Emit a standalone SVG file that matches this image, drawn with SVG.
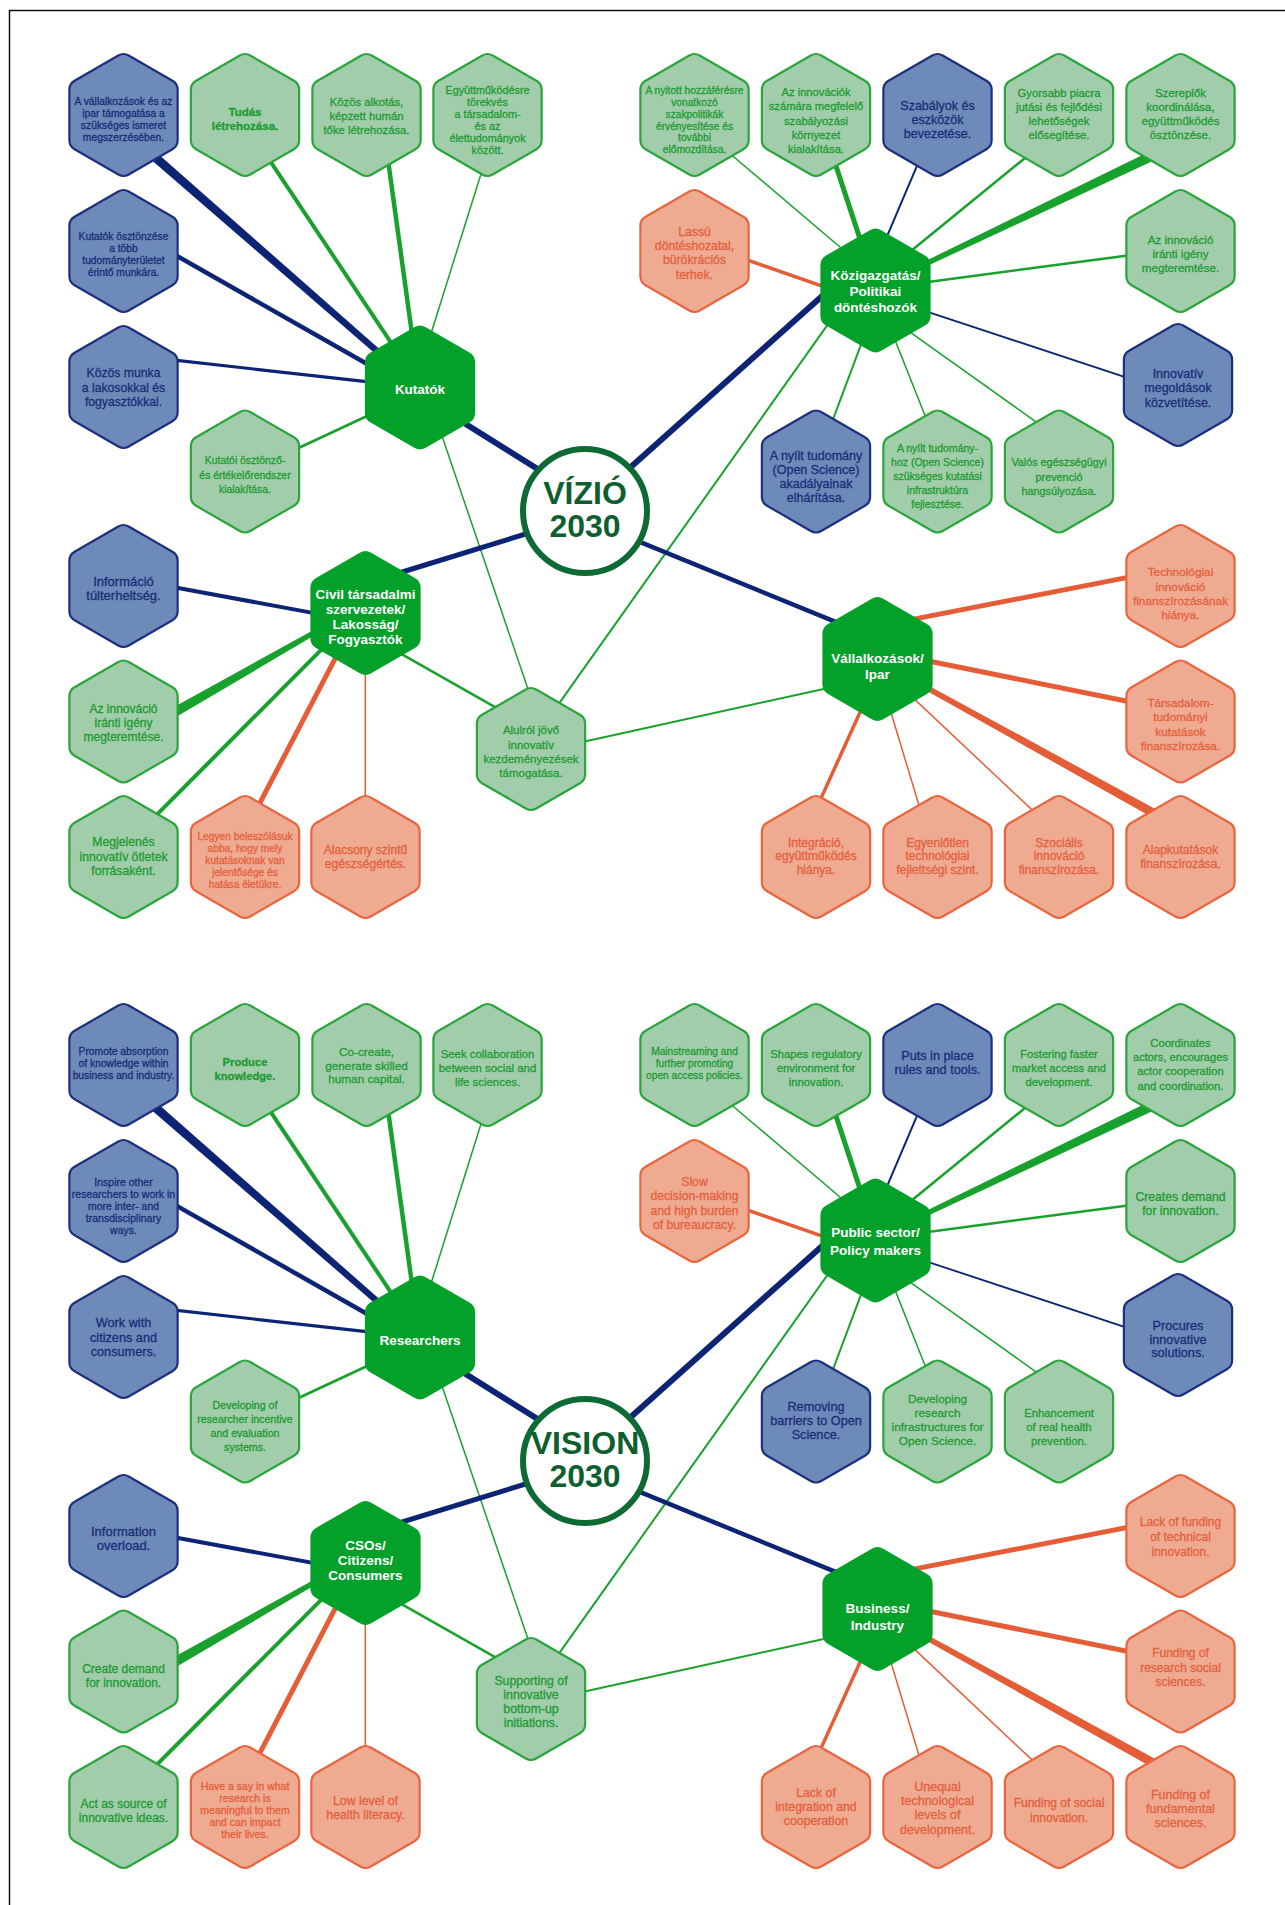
<svg xmlns="http://www.w3.org/2000/svg" xmlns:xlink="http://www.w3.org/1999/xlink" width="1285" height="1905" viewBox="0 0 1285 1905">
<style>
text{font-family:"Liberation Sans",Arial,sans-serif;text-anchor:middle}
.hb{fill:#6E8AB8;stroke:#1D2F7E;stroke-width:2.2}
.hg{fill:#A1CDAA;stroke:#2AA53C;stroke-width:2.2}
.hr{fill:#EFAA92;stroke:#E8653E;stroke-width:2.2}
.hh{fill:#03A12A;stroke:#03A12A;stroke-width:2}
.tb{fill:#1B2D7A;stroke:#1B2D7A;stroke-width:0.3}
.tg{fill:#1E9B34;stroke:#1E9B34;stroke-width:0.3}
.tr{fill:#E5613B;stroke:#E5613B;stroke-width:0.3}
.th{fill:#FFFFFF;font-weight:bold;font-size:13.5px}
.lb{stroke:#0D2475;fill:none}
.lg{stroke:#18A22D;fill:none}
.lr{stroke:#E55D37;fill:none}
.pb{fill:#0D2475}
.pg{fill:#18A22D}
.pr{fill:#E55D37}
.circ{fill:#FFFFFF;stroke:#0E6A34;stroke-width:6}
.ct{fill:#0E5F2F;font-weight:bold;font-size:32px}
</style>
<defs>
<path id="hex" d="M -5.2,-59.5 Q 0,-62.5 5.2,-59.5 L 48.93,-34.25 Q 54.13,-31.25 54.13,-25.25 L 54.13,25.25 Q 54.13,31.25 48.93,34.25 L 5.2,59.5 Q 0,62.5 -5.2,59.5 L -48.93,34.25 Q -54.13,31.25 -54.13,25.25 L -54.13,-25.25 Q -54.13,-31.25 -48.93,-34.25 Z"/>
</defs>
<rect x="0" y="0" width="1285" height="1905" fill="#FFFFFF"/>
<rect id="frame" x="9.5" y="10.5" width="1400" height="2000" fill="none" stroke="#111111" stroke-width="1.5"/>

<g id="connectors">
<g id="connectors-hu">
<polygon class="pb" points="146.5,155.8 382.5,359.9 386.5,355.3 152.5,149.0"/>
<line class="lg" stroke-width="4" x1="267" y1="156.3" x2="395.5" y2="349.3"/>
<line class="lg" stroke-width="4.5" x1="387.6" y1="157" x2="412.4" y2="337"/>
<line class="lg" stroke-width="1.5" x1="483" y1="167.5" x2="429" y2="340"/>
<line class="lb" stroke-width="4.5" x1="169.3" y1="251.6" x2="374.2" y2="368"/>
<line class="lb" stroke-width="3.2" x1="168" y1="359.4" x2="375.5" y2="382.6"/>
<line class="lg" stroke-width="2.8" x1="289.4" y1="452.2" x2="374.6" y2="412.5"/>
<line class="lb" stroke-width="6" x1="456.5" y1="418.3" x2="560" y2="483"/>
<line class="lg" stroke-width="1.5" x1="439.8" y1="429.5" x2="530" y2="695"/>
<line class="lg" stroke-width="1.5" x1="726" y1="150.2" x2="847" y2="253"/>
<line class="lg" stroke-width="5" x1="833.2" y1="157.5" x2="862.7" y2="247.1"/>
<line class="lb" stroke-width="2" x1="920.8" y1="156.8" x2="884.1" y2="243.2"/>
<line class="lg" stroke-width="2.5" x1="1031.5" y1="152.7" x2="907" y2="254.3"/>
<polygon class="pg" points="1154.8,148.9 918.6,264.4 920.8,269.0 1159.2,157.9"/>
<line class="lg" stroke-width="2.5" x1="1137.5" y1="254.2" x2="920.5" y2="283"/>
<line class="lb" stroke-width="1.8" x1="1134.2" y1="380.1" x2="920.9" y2="309.6"/>
<line class="lr" stroke-width="3.5" x1="739.8" y1="257.4" x2="830.9" y2="289.1"/>
<line class="lb" stroke-width="6" x1="614.6" y1="481.4" x2="828.9" y2="290.1"/>
<line class="lg" stroke-width="2" x1="555.2" y1="708.8" x2="832.3" y2="318.2"/>
<line class="lg" stroke-width="2" x1="830.5" y1="426" x2="864" y2="336.6"/>
<line class="lg" stroke-width="1.5" x1="927.7" y1="422.3" x2="892.8" y2="334.4"/>
<line class="lg" stroke-width="1.5" x1="1041.6" y1="425.8" x2="904.4" y2="328.2"/>
<line class="lb" stroke-width="5" x1="392.5" y1="575" x2="555" y2="525"/>
<line class="lb" stroke-width="4" x1="168.6" y1="586.2" x2="320.8" y2="614.4"/>
<polygon class="pg" points="172.2,719.3 320.9,631.6 318.5,627.2 167.2,710.7"/>
<line class="lg" stroke-width="4" x1="151.9" y1="819.6" x2="327.1" y2="643.9"/>
<line class="lr" stroke-width="5" x1="256.4" y1="809.6" x2="339.3" y2="650.7"/>
<line class="lr" stroke-width="1.5" x1="365.3" y1="804" x2="365.3" y2="666"/>
<line class="lg" stroke-width="2.5" x1="396.3" y1="651.1" x2="501.7" y2="710.9"/>
<line class="lg" stroke-width="2" x1="576.7" y1="743.2" x2="832.8" y2="686.9"/>
<line class="lb" stroke-width="4.5" x1="612.2" y1="530.7" x2="842.3" y2="624.6"/>
<line class="lr" stroke-width="5" x1="1134.4" y1="576.1" x2="909.9" y2="619.9"/>
<line class="lr" stroke-width="5" x1="1134.4" y1="702.7" x2="922.2" y2="659.7"/>
<polygon class="pr" points="1159,810.9 924.6,683.4 922,688.2 1154.6,818.7"/>
<line class="lr" stroke-width="1.5" x1="1037.3" y1="814.9" x2="909.1" y2="694.1"/>
<line class="lr" stroke-width="1.5" x1="921.4" y1="813.3" x2="888.8" y2="705.2"/>
<line class="lr" stroke-width="3.5" x1="817.9" y1="805.1" x2="864.1" y2="703.3"/>
</g>
<g id="connectors-en" transform="translate(0,950)">
<polygon class="pb" points="146.5,155.8 382.5,359.9 386.5,355.3 152.5,149.0"/>
<line class="lg" stroke-width="4" x1="267" y1="156.3" x2="395.5" y2="349.3"/>
<line class="lg" stroke-width="4.5" x1="387.6" y1="157" x2="412.4" y2="337"/>
<line class="lg" stroke-width="1.5" x1="483" y1="167.5" x2="429" y2="340"/>
<line class="lb" stroke-width="4.5" x1="169.3" y1="251.6" x2="374.2" y2="368"/>
<line class="lb" stroke-width="3.2" x1="168" y1="359.4" x2="375.5" y2="382.6"/>
<line class="lg" stroke-width="2.8" x1="289.4" y1="452.2" x2="374.6" y2="412.5"/>
<line class="lb" stroke-width="6" x1="456.5" y1="418.3" x2="560" y2="483"/>
<line class="lg" stroke-width="1.5" x1="439.8" y1="429.5" x2="530" y2="695"/>
<line class="lg" stroke-width="1.5" x1="726" y1="150.2" x2="847" y2="253"/>
<line class="lg" stroke-width="5" x1="833.2" y1="157.5" x2="862.7" y2="247.1"/>
<line class="lb" stroke-width="2" x1="920.8" y1="156.8" x2="884.1" y2="243.2"/>
<line class="lg" stroke-width="2.5" x1="1031.5" y1="152.7" x2="907" y2="254.3"/>
<polygon class="pg" points="1154.8,148.9 918.6,264.4 920.8,269.0 1159.2,157.9"/>
<line class="lg" stroke-width="2.5" x1="1137.5" y1="254.2" x2="920.5" y2="283"/>
<line class="lb" stroke-width="1.8" x1="1134.2" y1="380.1" x2="920.9" y2="309.6"/>
<line class="lr" stroke-width="3.5" x1="739.8" y1="257.4" x2="830.9" y2="289.1"/>
<line class="lb" stroke-width="6" x1="614.6" y1="481.4" x2="828.9" y2="290.1"/>
<line class="lg" stroke-width="2" x1="555.2" y1="708.8" x2="832.3" y2="318.2"/>
<line class="lg" stroke-width="2" x1="830.5" y1="426" x2="864" y2="336.6"/>
<line class="lg" stroke-width="1.5" x1="927.7" y1="422.3" x2="892.8" y2="334.4"/>
<line class="lg" stroke-width="1.5" x1="1041.6" y1="425.8" x2="904.4" y2="328.2"/>
<line class="lb" stroke-width="5" x1="392.5" y1="575" x2="555" y2="525"/>
<line class="lb" stroke-width="4" x1="168.6" y1="586.2" x2="320.8" y2="614.4"/>
<polygon class="pg" points="172.2,719.3 320.9,631.6 318.5,627.2 167.2,710.7"/>
<line class="lg" stroke-width="4" x1="151.9" y1="819.6" x2="327.1" y2="643.9"/>
<line class="lr" stroke-width="5" x1="256.4" y1="809.6" x2="339.3" y2="650.7"/>
<line class="lr" stroke-width="1.5" x1="365.3" y1="804" x2="365.3" y2="666"/>
<line class="lg" stroke-width="2.5" x1="396.3" y1="651.1" x2="501.7" y2="710.9"/>
<line class="lg" stroke-width="2" x1="576.7" y1="743.2" x2="832.8" y2="686.9"/>
<line class="lb" stroke-width="4.5" x1="612.2" y1="530.7" x2="842.3" y2="624.6"/>
<line class="lr" stroke-width="5" x1="1134.4" y1="576.1" x2="909.9" y2="619.9"/>
<line class="lr" stroke-width="5" x1="1134.4" y1="702.7" x2="922.2" y2="659.7"/>
<polygon class="pr" points="1159,810.9 924.6,683.4 922,688.2 1154.6,818.7"/>
<line class="lr" stroke-width="1.5" x1="1037.3" y1="814.9" x2="909.1" y2="694.1"/>
<line class="lr" stroke-width="1.5" x1="921.4" y1="813.3" x2="888.8" y2="705.2"/>
<line class="lr" stroke-width="3.5" x1="817.9" y1="805.1" x2="864.1" y2="703.3"/>
</g>
</g>

<g id="hu">
<g id="hu-vizio"><circle class="circ" cx="585" cy="511" r="62"/><text class="ct" x="585" y="503.5">VÍZIÓ</text><text class="ct" x="585" y="537">2030</text></g>

<g id="hu-n1"><use href="#hex" class="hb" x="123.5" y="115"/><text class="tb" font-size="10.3" x="123.5" y="105"><tspan x="123.5">A vállalkozások és az</tspan><tspan x="123.5" dy="12">ipar támogatása a</tspan><tspan x="123.5" dy="12">szükséges ismeret</tspan><tspan x="123.5" dy="12">megszerzésében.</tspan></text></g>
<g id="hu-n2"><use href="#hex" class="hg" x="245" y="115"/><text class="tg" font-size="11.5" font-weight="bold" x="245" y="116"><tspan x="245">Tudás</tspan><tspan x="245" dy="14">létrehozása.</tspan></text></g>
<g id="hu-n3"><use href="#hex" class="hg" x="366.5" y="115"/><text class="tg" font-size="11.3" x="366.5" y="105.7"><tspan x="366.5">Közös alkotás,</tspan><tspan x="366.5" dy="14">képzett humán</tspan><tspan x="366.5" dy="14">tőke létrehozása.</tspan></text></g>
<g id="hu-n4"><use href="#hex" class="hg" x="487.5" y="115"/><text class="tg" font-size="10.8" x="487.5" y="93.5"><tspan x="487.5">Együttműködésre</tspan><tspan x="487.5" dy="12">törekvés</tspan><tspan x="487.5" dy="12">a társadalom-</tspan><tspan x="487.5" dy="12">és az</tspan><tspan x="487.5" dy="12">élettudományok</tspan><tspan x="487.5" dy="12">között.</tspan></text></g>
<g id="hu-n5"><use href="#hex" class="hb" x="123.5" y="251"/><text class="tb" font-size="10.3" x="123.5" y="240.3"><tspan x="123.5">Kutatók ösztönzése</tspan><tspan x="123.5" dy="12">a több</tspan><tspan x="123.5" dy="12">tudományterületet</tspan><tspan x="123.5" dy="12">érintő munkára.</tspan></text></g>
<g id="hu-n6"><use href="#hex" class="hb" x="123.5" y="387"/><text class="tb" font-size="12.2" x="123.5" y="377.3"><tspan x="123.5">Közös munka</tspan><tspan x="123.5" dy="14.2">a lakosokkal és</tspan><tspan x="123.5" dy="14.2">fogyasztókkal.</tspan></text></g>
<g id="hu-kutatok"><use href="#hex" class="hh" x="420" y="387.5"/><text class="th" x="420" y="394">Kutatók</text></g>
<g id="hu-n7"><use href="#hex" class="hg" x="245" y="471.5"/><text class="tg" font-size="10.4" x="245" y="464.3"><tspan x="245">Kutatói ösztönző-</tspan><tspan x="245" dy="14.5">és értékelőrendszer</tspan><tspan x="245" dy="14.5">kialakítása.</tspan></text></g>
<g id="hu-n8"><use href="#hex" class="hb" x="123.5" y="586"/><text class="tb" font-size="13" x="123.5" y="585.8"><tspan x="123.5">Információ</tspan><tspan x="123.5" dy="14.5">túlterheltség.</tspan></text></g>
<g id="hu-civil"><use href="#hex" class="hh" x="365.5" y="613"/><text class="th" x="365.5" y="598.8"><tspan x="365.5">Civil társadalmi</tspan><tspan x="365.5" dy="15">szervezetek/</tspan><tspan x="365.5" dy="15">Lakosság/</tspan><tspan x="365.5" dy="15">Fogyasztók</tspan></text></g>
<g id="hu-n9"><use href="#hex" class="hg" x="123.5" y="721.5"/><text class="tg" font-size="12" x="123.5" y="712.5"><tspan x="123.5">Az innováció</tspan><tspan x="123.5" dy="14">iránti igény</tspan><tspan x="123.5" dy="14">megteremtése.</tspan></text></g>
<g id="hu-n10"><use href="#hex" class="hg" x="123.5" y="857"/><text class="tg" font-size="12.2" x="123.5" y="846.2"><tspan x="123.5">Megjelenés</tspan><tspan x="123.5" dy="14.6">innovatív ötletek</tspan><tspan x="123.5" dy="14.6">forrásaként.</tspan></text></g>
<g id="hu-n11"><use href="#hex" class="hr" x="245" y="857"/><text class="tr" font-size="10.2" x="245" y="839.6"><tspan x="245">Legyen beleszólásuk</tspan><tspan x="245" dy="12">abba, hogy mely</tspan><tspan x="245" dy="12">kutatásoknak van</tspan><tspan x="245" dy="12">jelentősége és</tspan><tspan x="245" dy="12">hatása életükre.</tspan></text></g>
<g id="hu-n12"><use href="#hex" class="hr" x="365.5" y="857"/><text class="tr" font-size="12" x="365.5" y="854.3"><tspan x="365.5">Alacsony szintű</tspan><tspan x="365.5" dy="13.8">egészségértés.</tspan></text></g>
<g id="hu-n13"><use href="#hex" class="hg" x="531" y="749"/><text class="tg" font-size="11.5" x="531" y="734.3"><tspan x="531">Alulról jövő</tspan><tspan x="531" dy="14.2">innovatív</tspan><tspan x="531" dy="14.2">kezdeményezések</tspan><tspan x="531" dy="14.2">támogatása.</tspan></text></g>
<g id="hu-n14"><use href="#hex" class="hg" x="694.5" y="115"/><text class="tg" font-size="10.2" x="694.5" y="93.8"><tspan x="694.5">A nyitott hozzáférésre</tspan><tspan x="694.5" dy="11.9">vonatkozó</tspan><tspan x="694.5" dy="11.9">szakpolitikák</tspan><tspan x="694.5" dy="11.9">érvényesítése és</tspan><tspan x="694.5" dy="11.9">további</tspan><tspan x="694.5" dy="11.9">előmozdítása.</tspan></text></g>
<g id="hu-n15"><use href="#hex" class="hg" x="816" y="115"/><text class="tg" font-size="11.2" x="816" y="96.2"><tspan x="816">Az innovációk</tspan><tspan x="816" dy="14.2">számára megfelelő</tspan><tspan x="816" dy="14.2">szabályozási</tspan><tspan x="816" dy="14.2">környezet</tspan><tspan x="816" dy="14.2">kialakítása.</tspan></text></g>
<g id="hu-n16"><use href="#hex" class="hb" x="937.5" y="115"/><text class="tb" font-size="12.5" x="937.5" y="110.1"><tspan x="937.5">Szabályok és</tspan><tspan x="937.5" dy="14">eszközök</tspan><tspan x="937.5" dy="14">bevezetése.</tspan></text></g>
<g id="hu-n17"><use href="#hex" class="hg" x="1059" y="115"/><text class="tg" font-size="11.3" x="1059" y="97"><tspan x="1059">Gyorsabb piacra</tspan><tspan x="1059" dy="14.1">jutási és fejlődési</tspan><tspan x="1059" dy="14.1">lehetőségek</tspan><tspan x="1059" dy="14.1">elősegítése.</tspan></text></g>
<g id="hu-n18"><use href="#hex" class="hg" x="1180.5" y="115"/><text class="tg" font-size="11.5" x="1180.5" y="97"><tspan x="1180.5">Szereplők</tspan><tspan x="1180.5" dy="14.1">koordinálása,</tspan><tspan x="1180.5" dy="14.1">együttműködés</tspan><tspan x="1180.5" dy="14.1">ösztönzése.</tspan></text></g>
<g id="hu-n19"><use href="#hex" class="hr" x="694.5" y="251"/><text class="tr" font-size="12.2" x="694.5" y="236"><tspan x="694.5">Lassú</tspan><tspan x="694.5" dy="14.2">döntéshozatal,</tspan><tspan x="694.5" dy="14.2">bürökrációs</tspan><tspan x="694.5" dy="14.2">terhek.</tspan></text></g>
<g id="hu-kozig"><use href="#hex" class="hh" x="875.5" y="290.5"/><text class="th" x="875.5" y="280.2"><tspan x="875.5">Közigazgatás/</tspan><tspan x="875.5" dy="16">Politikai</tspan><tspan x="875.5" dy="16">döntéshozók</tspan></text></g>
<g id="hu-n20"><use href="#hex" class="hg" x="1180.5" y="251"/><text class="tg" font-size="11.6" x="1180.5" y="243.5"><tspan x="1180.5">Az innováció</tspan><tspan x="1180.5" dy="14.3">iránti igény</tspan><tspan x="1180.5" dy="14.3">megteremtése.</tspan></text></g>
<g id="hu-n21"><use href="#hex" class="hb" x="1178" y="385"/><text class="tb" font-size="12.5" x="1178" y="378"><tspan x="1178">Innovatív</tspan><tspan x="1178" dy="14.3">megoldások</tspan><tspan x="1178" dy="14.3">közvetítése.</tspan></text></g>
<g id="hu-n22"><use href="#hex" class="hb" x="816" y="471.5"/><text class="tb" font-size="12.5" x="816" y="460"><tspan x="816">A nyílt tudomány</tspan><tspan x="816" dy="14">(Open Science)</tspan><tspan x="816" dy="14">akadályainak</tspan><tspan x="816" dy="14">elhárítása.</tspan></text></g>
<g id="hu-n23"><use href="#hex" class="hg" x="937.5" y="471.5"/><text class="tg" font-size="10.5" x="937.5" y="452"><tspan x="937.5">A nyílt tudomány-</tspan><tspan x="937.5" dy="14">hoz (Open Science)</tspan><tspan x="937.5" dy="14">szükséges kutatási</tspan><tspan x="937.5" dy="14">infrastruktúra</tspan><tspan x="937.5" dy="14">fejlesztése.</tspan></text></g>
<g id="hu-n24"><use href="#hex" class="hg" x="1059" y="471.5"/><text class="tg" font-size="10.8" x="1059" y="466.4"><tspan x="1059">Valós egészségügyi</tspan><tspan x="1059" dy="14.1">prevenció</tspan><tspan x="1059" dy="14.1">hangsúlyozása.</tspan></text></g>
<g id="hu-n25"><use href="#hex" class="hr" x="1180.5" y="586"/><text class="tr" font-size="11.8" x="1180.5" y="576.2"><tspan x="1180.5">Technológiai</tspan><tspan x="1180.5" dy="14.3">innováció</tspan><tspan x="1180.5" dy="14.3">finanszírozásának</tspan><tspan x="1180.5" dy="14.3">hiánya.</tspan></text></g>
<g id="hu-vallalk"><use href="#hex" class="hh" x="877.5" y="659"/><text class="th" x="877.5" y="662.5"><tspan x="877.5">Vállalkozások/</tspan><tspan x="877.5" dy="16.8">Ipar</tspan></text></g>
<g id="hu-n26"><use href="#hex" class="hr" x="1180.5" y="721.5"/><text class="tr" font-size="11.8" x="1180.5" y="707.2"><tspan x="1180.5">Társadalom-</tspan><tspan x="1180.5" dy="14.2">tudományi</tspan><tspan x="1180.5" dy="14.2">kutatások</tspan><tspan x="1180.5" dy="14.2">finanszírozása.</tspan></text></g>
<g id="hu-n27"><use href="#hex" class="hr" x="816" y="857"/><text class="tr" font-size="12" x="816" y="846.5"><tspan x="816">Integráció,</tspan><tspan x="816" dy="13.9">együttműködés</tspan><tspan x="816" dy="13.9">hiánya.</tspan></text></g>
<g id="hu-n28"><use href="#hex" class="hr" x="937.5" y="857"/><text class="tr" font-size="12" x="937.5" y="846.5"><tspan x="937.5">Egyenlőtlen</tspan><tspan x="937.5" dy="13.9">technológiai</tspan><tspan x="937.5" dy="13.9">fejlettségi szint.</tspan></text></g>
<g id="hu-n29"><use href="#hex" class="hr" x="1059" y="857"/><text class="tr" font-size="12" x="1059" y="846.5"><tspan x="1059">Szociális</tspan><tspan x="1059" dy="13.9">innováció</tspan><tspan x="1059" dy="13.9">finanszírozása.</tspan></text></g>
<g id="hu-n30"><use href="#hex" class="hr" x="1180.5" y="857"/><text class="tr" font-size="12" x="1180.5" y="854"><tspan x="1180.5">Alapkutatások</tspan><tspan x="1180.5" dy="13.7">finanszírozása.</tspan></text></g>
</g>

<g id="en" transform="translate(0,950)">
<g id="en-vision"><circle class="circ" cx="585" cy="511" r="62"/><text class="ct" x="585" y="503.5" font-size="30">VISION</text><text class="ct" x="585" y="537">2030</text></g>

<g id="en-n1"><use href="#hex" class="hb" x="123.5" y="115"/><text class="tb" font-size="10.3" x="123.5" y="105.2"><tspan x="123.5">Promote absorption</tspan><tspan x="123.5" dy="11.9">of knowledge within</tspan><tspan x="123.5" dy="11.9">business and industry.</tspan></text></g>
<g id="en-n2"><use href="#hex" class="hg" x="245" y="115"/><text class="tg" font-size="11.2" font-weight="bold" x="245" y="116"><tspan x="245">Produce</tspan><tspan x="245" dy="14">knowledge.</tspan></text></g>
<g id="en-n3"><use href="#hex" class="hg" x="366.5" y="115"/><text class="tg" font-size="11.8" x="366.5" y="105.7"><tspan x="366.5">Co-create,</tspan><tspan x="366.5" dy="13.8">generate skilled</tspan><tspan x="366.5" dy="13.8">human capital.</tspan></text></g>
<g id="en-n4"><use href="#hex" class="hg" x="487.5" y="115"/><text class="tg" font-size="11.4" x="487.5" y="108.3"><tspan x="487.5">Seek collaboration</tspan><tspan x="487.5" dy="14">between social and</tspan><tspan x="487.5" dy="14">life sciences.</tspan></text></g>
<g id="en-n5"><use href="#hex" class="hb" x="123.5" y="251"/><text class="tb" font-size="10.5" x="123.5" y="236.1"><tspan x="123.5">Inspire other</tspan><tspan x="123.5" dy="12">researchers to work in</tspan><tspan x="123.5" dy="12">more inter- and</tspan><tspan x="123.5" dy="12">transdisciplinary</tspan><tspan x="123.5" dy="12">ways.</tspan></text></g>
<g id="en-n6"><use href="#hex" class="hb" x="123.5" y="387"/><text class="tb" font-size="12.7" x="123.5" y="377.3"><tspan x="123.5">Work with</tspan><tspan x="123.5" dy="14.2">citizens and</tspan><tspan x="123.5" dy="14.2">consumers.</tspan></text></g>
<g id="en-researchers"><use href="#hex" class="hh" x="420" y="387.5"/><text class="th" x="420" y="394.5" font-size="13">Researchers</text></g>
<g id="en-n7"><use href="#hex" class="hg" x="245" y="471.5"/><text class="tg" font-size="10.6" x="245" y="458.9"><tspan x="245">Developing of</tspan><tspan x="245" dy="14.1">researcher incentive</tspan><tspan x="245" dy="14.1">and evaluation</tspan><tspan x="245" dy="14.1">systems.</tspan></text></g>
<g id="en-n8"><use href="#hex" class="hb" x="123.5" y="586"/><text class="tb" font-size="13" x="123.5" y="585.8"><tspan x="123.5">Information</tspan><tspan x="123.5" dy="14.5">overload.</tspan></text></g>
<g id="en-csos"><use href="#hex" class="hh" x="365.5" y="613"/><text class="th" x="365.5" y="599.8"><tspan x="365.5">CSOs/</tspan><tspan x="365.5" dy="15">Citizens/</tspan><tspan x="365.5" dy="15">Consumers</tspan></text></g>
<g id="en-n9"><use href="#hex" class="hg" x="123.5" y="721.5"/><text class="tg" font-size="12" x="123.5" y="723.3"><tspan x="123.5">Create demand</tspan><tspan x="123.5" dy="13.8">for innovation.</tspan></text></g>
<g id="en-n10"><use href="#hex" class="hg" x="123.5" y="857"/><text class="tg" font-size="12" x="123.5" y="858"><tspan x="123.5">Act as source of</tspan><tspan x="123.5" dy="14.1">innovative ideas.</tspan></text></g>
<g id="en-n11"><use href="#hex" class="hr" x="245" y="857"/><text class="tr" font-size="10.5" x="245" y="839.7"><tspan x="245">Have a say in what</tspan><tspan x="245" dy="12">research is</tspan><tspan x="245" dy="12">meaningful to them</tspan><tspan x="245" dy="12">and can impact</tspan><tspan x="245" dy="12">their lives.</tspan></text></g>
<g id="en-n12"><use href="#hex" class="hr" x="365.5" y="857"/><text class="tr" font-size="12.3" x="365.5" y="854.8"><tspan x="365.5">Low level of</tspan><tspan x="365.5" dy="14.1">health literacy.</tspan></text></g>
<g id="en-n13"><use href="#hex" class="hg" x="531" y="749"/><text class="tg" font-size="12.3" x="531" y="735.1"><tspan x="531">Supporting of</tspan><tspan x="531" dy="14.1">innovative</tspan><tspan x="531" dy="14.1">bottom-up</tspan><tspan x="531" dy="14.1">initiations.</tspan></text></g>
<g id="en-n14"><use href="#hex" class="hg" x="694.5" y="115"/><text class="tg" font-size="10.2" x="694.5" y="105.2"><tspan x="694.5">Mainstreaming and</tspan><tspan x="694.5" dy="11.9">further promoting</tspan><tspan x="694.5" dy="11.9">open access policies.</tspan></text></g>
<g id="en-n15"><use href="#hex" class="hg" x="816" y="115"/><text class="tg" font-size="11.3" x="816" y="108"><tspan x="816">Shapes regulatory</tspan><tspan x="816" dy="14.1">environment for</tspan><tspan x="816" dy="14.1">innovation.</tspan></text></g>
<g id="en-n16"><use href="#hex" class="hb" x="937.5" y="115"/><text class="tb" font-size="12.7" x="937.5" y="110.1"><tspan x="937.5">Puts in place</tspan><tspan x="937.5" dy="14">rules and tools.</tspan></text></g>
<g id="en-n17"><use href="#hex" class="hg" x="1059" y="115"/><text class="tg" font-size="11.2" x="1059" y="108"><tspan x="1059">Fostering faster</tspan><tspan x="1059" dy="14.1">market access and</tspan><tspan x="1059" dy="14.1">development.</tspan></text></g>
<g id="en-n18"><use href="#hex" class="hg" x="1180.5" y="115"/><text class="tg" font-size="11.2" x="1180.5" y="97"><tspan x="1180.5">Coordinates</tspan><tspan x="1180.5" dy="14.2">actors, encourages</tspan><tspan x="1180.5" dy="14.2">actor cooperation</tspan><tspan x="1180.5" dy="14.2">and coordination.</tspan></text></g>
<g id="en-n19"><use href="#hex" class="hr" x="694.5" y="251"/><text class="tr" font-size="12.2" x="694.5" y="236"><tspan x="694.5">Slow</tspan><tspan x="694.5" dy="14.4">decision-making</tspan><tspan x="694.5" dy="14.4">and high burden</tspan><tspan x="694.5" dy="14.4">of bureaucracy.</tspan></text></g>
<g id="en-public"><use href="#hex" class="hh" x="875.5" y="290.5"/><text class="th" x="875.5" y="287.1"><tspan x="875.5">Public sector/</tspan><tspan x="875.5" dy="17.9">Policy makers</tspan></text></g>
<g id="en-n20"><use href="#hex" class="hg" x="1180.5" y="251"/><text class="tg" font-size="12.2" x="1180.5" y="251.2"><tspan x="1180.5">Creates demand</tspan><tspan x="1180.5" dy="14.1">for innovation.</tspan></text></g>
<g id="en-n21"><use href="#hex" class="hb" x="1178" y="385"/><text class="tb" font-size="12.7" x="1178" y="379.7"><tspan x="1178">Procures</tspan><tspan x="1178" dy="13.8">innovative</tspan><tspan x="1178" dy="13.8">solutions.</tspan></text></g>
<g id="en-n22"><use href="#hex" class="hb" x="816" y="471.5"/><text class="tb" font-size="12.7" x="816" y="460.7"><tspan x="816">Removing</tspan><tspan x="816" dy="14.1">barriers to Open</tspan><tspan x="816" dy="14.1">Science.</tspan></text></g>
<g id="en-n23"><use href="#hex" class="hg" x="937.5" y="471.5"/><text class="tg" font-size="11.8" x="937.5" y="453.2"><tspan x="937.5">Developing</tspan><tspan x="937.5" dy="14">research</tspan><tspan x="937.5" dy="14">infrastructures for</tspan><tspan x="937.5" dy="14">Open Science.</tspan></text></g>
<g id="en-n24"><use href="#hex" class="hg" x="1059" y="471.5"/><text class="tg" font-size="11.3" x="1059" y="466.7"><tspan x="1059">Enhancement</tspan><tspan x="1059" dy="14">of real health</tspan><tspan x="1059" dy="14">prevention.</tspan></text></g>
<g id="en-n25"><use href="#hex" class="hr" x="1180.5" y="586"/><text class="tr" font-size="12" x="1180.5" y="576.3"><tspan x="1180.5">Lack of funding</tspan><tspan x="1180.5" dy="14.6">of technical</tspan><tspan x="1180.5" dy="14.6">innovation.</tspan></text></g>
<g id="en-business"><use href="#hex" class="hh" x="877.5" y="659"/><text class="th" x="877.5" y="663.4"><tspan x="877.5">Business/</tspan><tspan x="877.5" dy="16.8">Industry</tspan></text></g>
<g id="en-n26"><use href="#hex" class="hr" x="1180.5" y="721.5"/><text class="tr" font-size="12" x="1180.5" y="707.2"><tspan x="1180.5">Funding of</tspan><tspan x="1180.5" dy="14.3">research social</tspan><tspan x="1180.5" dy="14.3">sciences.</tspan></text></g>
<g id="en-n27"><use href="#hex" class="hr" x="816" y="857"/><text class="tr" font-size="12.3" x="816" y="846.5"><tspan x="816">Lack of</tspan><tspan x="816" dy="14.2">integration and</tspan><tspan x="816" dy="14.2">cooperation</tspan></text></g>
<g id="en-n28"><use href="#hex" class="hr" x="937.5" y="857"/><text class="tr" font-size="12.5" x="937.5" y="841"><tspan x="937.5">Unequal</tspan><tspan x="937.5" dy="14.2">technological</tspan><tspan x="937.5" dy="14.2">levels of</tspan><tspan x="937.5" dy="14.2">development.</tspan></text></g>
<g id="en-n29"><use href="#hex" class="hr" x="1059" y="857"/><text class="tr" font-size="12" x="1059" y="857.2"><tspan x="1059">Funding of social</tspan><tspan x="1059" dy="14.4">innovation.</tspan></text></g>
<g id="en-n30"><use href="#hex" class="hr" x="1180.5" y="857"/><text class="tr" font-size="12.5" x="1180.5" y="848.8"><tspan x="1180.5">Funding of</tspan><tspan x="1180.5" dy="14.3">fundamental</tspan><tspan x="1180.5" dy="14.3">sciences.</tspan></text></g>
</g>
</svg>
